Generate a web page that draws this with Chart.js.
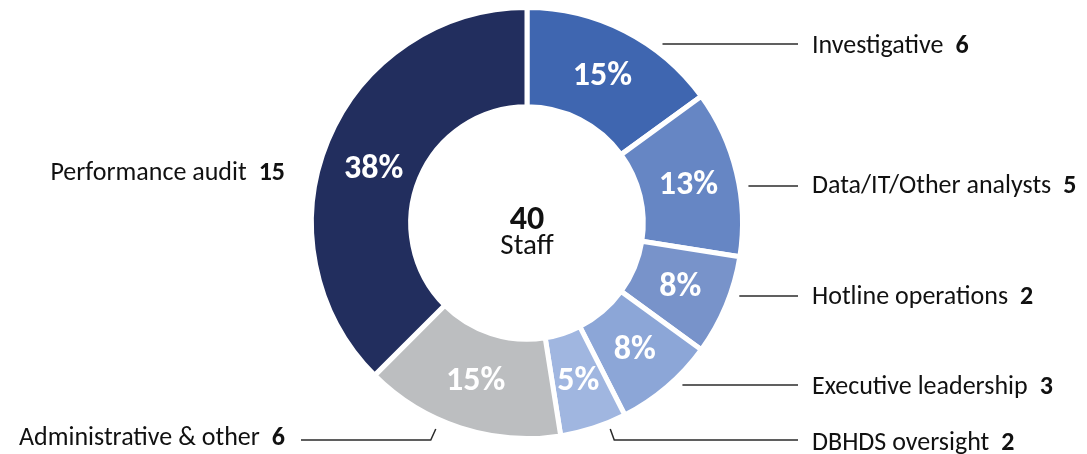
<!DOCTYPE html>
<html>
<head>
<meta charset="utf-8">
<script src="https://cdn.jsdelivr.net/npm/chart.js@4.4.1/dist/chart.umd.min.js"></script>
<style>
  html, body { margin: 0; padding: 0; background: #ffffff; }
  #wrap { position: relative; width: 1087px; height: 454px; }
</style>
</head>
<body>
<div id="wrap"><canvas id="c"></canvas></div>
<script>
// ---- data ----
const categories = ['Investigative', 'Data/IT/Other analysts', 'Hotline operations', 'Executive leadership', 'DBHDS oversight', 'Administrative & other', 'Performance audit'];
const sliceValues = [6, 5, 3, 3, 2, 6, 15];          // slice sizes (staff)
const printedCounts = ['6', '5', '2', '3', '2', '6', '15']; // counts as printed beside labels
const percentLabels = ['15%', '13%', '8%', '8%', '5%', '15%', '38%'];
const centerNumber = '40';
const centerCaption = 'Staff';

// ---- styles ----
const sliceColors = ['#3F66B0', '#6686C4', '#7893CA', '#8CA6D7', '#A0B6E0', '#BCBEC0', '#222E5E'];
const FONT = 'Carlito, Calibri, Lato, "Open Sans", sans-serif';
const LABEL_SIZE = 26;

// label layout: side, text baseline offset from centre, leader-line offset from centre
const labelLayout = [
  { side: 'right', base: -170, line: -179, kind: 'straight' },
  { side: 'right', base: -30,  line: -37,  kind: 'straight' },
  { side: 'right', base: 81,   line: 73,   kind: 'straight' },
  { side: 'right', base: 171,  line: 162,  kind: 'straight' },
  { side: 'right', base: 227,  line: 217,  kind: 'elbow' },
  { side: 'left',  base: 222,  line: 217,  kind: 'elbow' },
  { side: 'left',  base: -43,  line: null, kind: 'none' }
];

const labelPlugin = {
  id: 'labels',
  afterDatasetsDraw(chart) {
    const ctx = chart.ctx;
    const arcs = chart.getDatasetMeta(0).data;
    const cx = arcs[0].x, cy = arcs[0].y;
    const outer = arcs[0].outerRadius, inner = arcs[0].innerRadius;
    ctx.save();
    // percentages inside slices
    ctx.fillStyle = '#ffffff';
    ctx.textAlign = 'center';
    ctx.textBaseline = 'middle';
    ctx.font = 'bold 34px ' + FONT;
    arcs.forEach((a, i) => {
      const mid = (a.startAngle + a.endAngle) / 2;
      const r = (outer + inner) / 2;
      let x = cx + Math.cos(mid) * r, y = cy + Math.sin(mid) * r;
      if (i === 6) { y += 9; }
      ctx.fillText(percentLabels[i], x, y + 1);
    });
    // centre text
    ctx.fillStyle = '#111111';
    ctx.textBaseline = 'alphabetic';
    ctx.font = 'bold 34px ' + FONT;
    ctx.fillText(centerNumber, cx, cy + 6);
    ctx.font = '29px ' + FONT;
    ctx.fillText(centerCaption, cx, cy + 31);

    // outside labels + leader lines
    const R = outer + 9;
    const rightX = cx + 285, rightLineEnd = cx + 271;
    ctx.strokeStyle = '#2b2b2b';
    ctx.lineWidth = 1.5;
    labelLayout.forEach((L, i) => {
      ctx.font = LABEL_SIZE + 'px ' + FONT;
      const name = categories[i];
      const nameW = ctx.measureText(name).width;
      ctx.font = 'bold ' + LABEL_SIZE + 'px ' + FONT;
      const numW = ctx.measureText(printedCounts[i]).width;
      const gap = 12;
      const by = cy + L.base;
      let textLeft;
      if (L.side === 'right') {
        textLeft = rightX;
      } else {
        textLeft = cx - 242 - (nameW + gap + numW);
      }
      ctx.textAlign = 'left';
      ctx.fillStyle = '#111111';
      ctx.font = LABEL_SIZE + 'px ' + FONT;
      ctx.fillText(name, textLeft, by);
      ctx.font = 'bold ' + LABEL_SIZE + 'px ' + FONT;
      ctx.fillText(printedCounts[i], textLeft + nameW + gap, by);

      if (L.kind === 'straight') {
        const ly = cy + L.line;
        const dx = Math.sqrt(Math.max(R * R - L.line * L.line, 0));
        ctx.beginPath();
        ctx.moveTo(cx + dx, ly);
        ctx.lineTo(rightLineEnd, ly);
        ctx.stroke();
      } else if (L.kind === 'elbow') {
        const ly = cy + L.line;
        const topY = cy + 206;
        const dx = Math.sqrt(Math.max(R * R - 206 * 206, 0));
        ctx.beginPath();
        if (L.side === 'right') {
          ctx.moveTo(cx + dx - 6, topY);
          ctx.lineTo(cx + dx - 2, ly);
          ctx.lineTo(rightLineEnd, ly);
        } else {
          ctx.moveTo(cx - dx - 2, topY);
          ctx.lineTo(cx - dx - 7, ly);
          ctx.lineTo(textLeft + nameW + gap + numW + 16, ly);
        }
        ctx.stroke();
      }
    });
    ctx.restore();
  }
};

new Chart(document.getElementById('c'), {
  type: 'doughnut',
  data: {
    labels: categories,
    datasets: [{
      data: sliceValues,
      backgroundColor: sliceColors,
      borderColor: '#ffffff',
      borderWidth: 5,
      hoverOffset: 0
    }]
  },
  options: {
    responsive: true,
    maintainAspectRatio: false,
    animation: false,
    radius: 215.5,
    cutout: 119,
    layout: { padding: { left: 0, right: 33, top: 0, bottom: 8 } },
    plugins: { legend: { display: false }, tooltip: { enabled: false } }
  },
  plugins: [labelPlugin]
});
</script>
</body>
</html>
